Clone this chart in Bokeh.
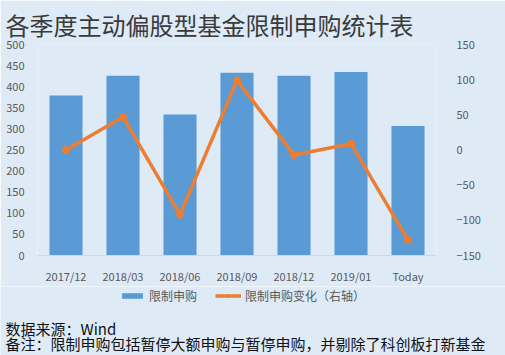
from bokeh.plotting import figure
from bokeh.layouts import column
from bokeh.models import (Range1d, FactorRange, LinearAxis, Title, Legend, LegendItem, Label,
                          ColumnDataSource, SingleIntervalTicker)
from bokeh.embed import file_html
from bokeh.resources import INLINE

categories = ["2017/12", "2018/03", "2018/06", "2018/09", "2018/12", "2019/01", "Today"]
restricted = [379, 426, 334, 433, 426, 435, 307]
change = [0, 47, -92, 99, -7, 9, -128]

title_text = "各季度主动偏股型基金限制申购统计表"
source_text = "数据来源：Wind"
note_text = "备注：限制申购包括暂停大额申购与暂停申购，并剔除了科创板打新基金"
bar_name = "限制申购"
line_name = "限制申购变化（右轴）"

BG = "#DEEBF7"
BLUE = "#5B9BD5"
ORANGE = "#ED7D31"
GRAY = "#595959"
CJK = "Noto Sans CJK SC"

src = ColumnDataSource(dict(cat=categories, val=restricted, chg=change))

p = figure(width=505, height=286, output_backend="svg", toolbar_location=None,
           x_range=FactorRange(*categories, range_padding=0),
           y_range=Range1d(0, 500),
           min_border_left=37, min_border_right=69, min_border_top=44, min_border_bottom=25)
p.frame_align = False
p.background_fill_color = BG
p.border_fill_color = BG
p.outline_line_color = None
p.xgrid.visible = False
p.ygrid.visible = False

p.extra_y_ranges = {"r": Range1d(-150, 150)}

bars = p.vbar(x="cat", top="val", width=0.58, source=src, color=BLUE, line_color=None)
ln = p.line(x="cat", y="chg", source=src, color=ORANGE, line_width=3.5, y_range_name="r")
mk = p.scatter(x="cat", y="chg", source=src, color=ORANGE, size=7, y_range_name="r")

ya = p.yaxis[0]
ya.ticker = SingleIntervalTicker(interval=50)
ya.axis_line_color = None
ya.major_tick_line_color = None
ya.minor_tick_line_color = None
ya.major_label_text_color = GRAY
ya.major_label_text_font = CJK
ya.major_label_text_font_size = "11px"
ya.major_label_standoff = 7

ra = LinearAxis(y_range_name="r", ticker=SingleIntervalTicker(interval=50))
ra.axis_line_color = None
ra.major_tick_line_color = None
ra.minor_tick_line_color = None
ra.major_label_text_color = GRAY
ra.major_label_text_font = CJK
ra.major_label_text_font_size = "11px"
ra.major_label_standoff = 14
p.add_layout(ra, "right")

xa = p.xaxis[0]
xa.axis_line_color = "#D0D7DF"
xa.major_tick_line_color = None
xa.minor_tick_line_color = None
xa.major_label_text_color = GRAY
xa.major_label_text_font = CJK
xa.major_label_text_font_size = "11px"
xa.major_label_standoff = 6

p.add_layout(Title(text=title_text, align="left", offset=-32, standoff=6,
                   text_font=CJK, text_font_size="24px", text_font_style="normal",
                   text_color="#3A3A3A"), "above")

# footer figure: legend + notes (series drawn off-view only to feed the legend swatches)
f = figure(width=505, height=69, output_backend="svg", toolbar_location=None,
           x_range=FactorRange(*categories, range_padding=0), y_range=Range1d(1000, 1001),
           x_axis_location=None, y_axis_location=None, min_border=0)
f.frame_align = False
f.background_fill_color = BG
f.border_fill_color = BG
f.outline_line_color = None
f.xgrid.visible = False
f.ygrid.visible = False

lb = f.vbar(x="cat", top="val", width=0.58, source=src, color=BLUE, line_color=None)
ll = f.line(x="cat", y="chg", source=src, color=ORANGE, line_width=3.5)
lm = f.scatter(x="cat", y="chg", source=src, color=ORANGE, size=7)

legend = Legend(items=[LegendItem(label=bar_name, renderers=[lb]),
                       LegendItem(label=line_name, renderers=[ll, lm])],
                orientation="horizontal", location=(119, 51),
                glyph_width=26, glyph_height=7, label_height=12,
                label_standoff=4, spacing=18, padding=0, margin=0,
                border_line_color=None, background_fill_alpha=0,
                label_text_font=CJK, label_text_font_size="12px",
                label_text_color=GRAY)
f.add_layout(legend, "center")

f.add_layout(Label(x=5, y=27, x_units="screen", y_units="screen", text=source_text,
                   text_font=CJK, text_font_size="15px",
                   text_color="#111111", text_baseline="middle", text_align="left"))
f.add_layout(Label(x=5, y=12, x_units="screen", y_units="screen", text=note_text,
                   text_font=CJK, text_font_size="15px",
                   text_color="#111111", text_baseline="middle", text_align="left"))

layout = column(p, f, spacing=0)
open("out.html", "w").write(file_html(layout, INLINE))
